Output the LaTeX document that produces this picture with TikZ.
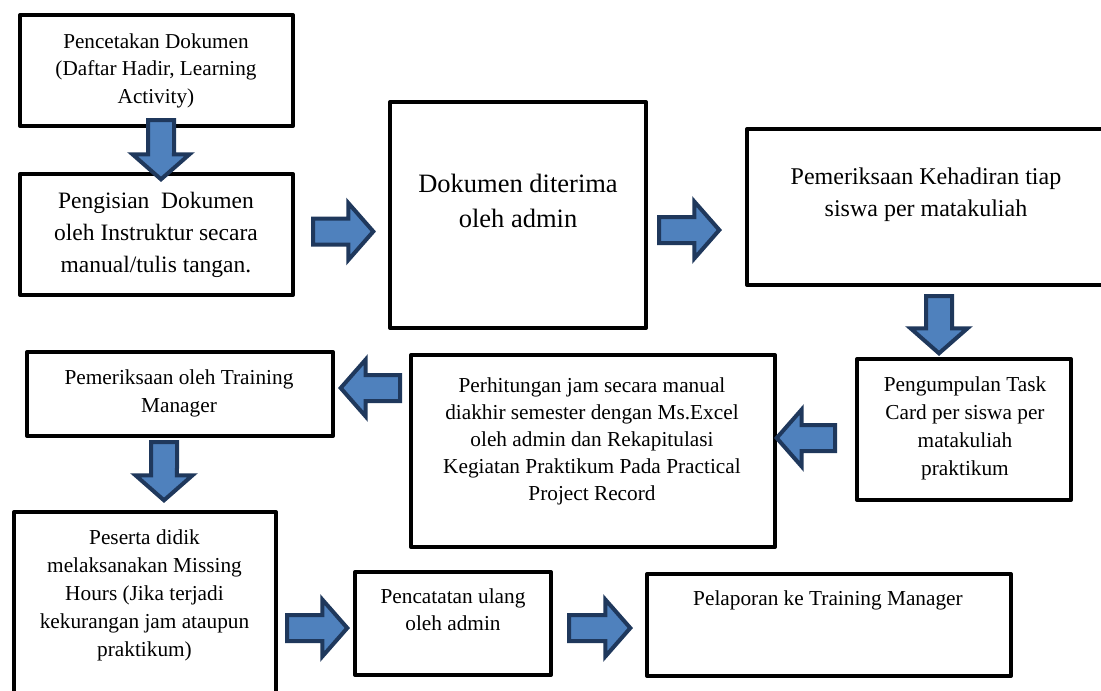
\documentclass[tikz,border=0pt]{standalone}
\usepackage{fontspec}
\setmainfont{Liberation Serif}
\usetikzlibrary{calc}
\definecolor{arrowfill}{RGB}{79,129,189}
\definecolor{arrowline}{RGB}{31,56,92}
\newcommand\setfs[2]{\fontsize{#1}{#2}\selectfont}
\begin{document}
\begin{tikzpicture}[x=1pt,y=-1pt,
  boxnode/.style={draw=black, line width=4pt, line join=round, inner sep=0pt, fill=white},
  txt/.style={align=center, inner sep=0pt, anchor=north, font=\setfs{21.3}{27.5}},
  blockarrow/.style={draw=arrowline, fill=arrowfill, line width=4pt, line join=miter,
    to path={($(\tikztostart)!13pt!90:(\tikztotarget)$)
      -- ($(\tikztotarget)!28.18pt!-27.47:(\tikztostart)$)
      -- ($(\tikztotarget)!37.91pt!-48.74:(\tikztostart)$)
      -- (\tikztotarget)
      -- ($(\tikztotarget)!37.91pt!48.74:(\tikztostart)$)
      -- ($(\tikztotarget)!28.18pt!27.47:(\tikztostart)$)
      -- ($(\tikztostart)!13pt!-90:(\tikztotarget)$) -- cycle}}
]
\useasboundingbox[fill=white] (0,0) rectangle (1101,691);

% boxes
\node[boxnode, minimum width=273pt, minimum height=111pt] (b1) at (156.5,70.5) {};
\node[boxnode, minimum width=273pt, minimum height=121pt] (b2) at (156.5,234.5) {};
\node[boxnode, minimum width=256pt, minimum height=226pt] (b3) at (518,215) {};
\node[boxnode, minimum width=359pt, minimum height=156pt] (b4) at (926.5,207) {};
\node[boxnode, minimum width=214pt, minimum height=141pt] (b5) at (964,429.5) {};
\node[boxnode, minimum width=364pt, minimum height=192pt] (b6) at (593,451) {};
\node[boxnode, minimum width=306pt, minimum height=84pt] (b7) at (180,394) {};
\node[boxnode, minimum width=262pt, minimum height=188pt] (b8) at (145,606) {};
\node[boxnode, minimum width=196pt, minimum height=103pt] (b9) at (453,623.5) {};
\node[boxnode, minimum width=364pt, minimum height=102pt] (b10) at (829,625) {};

% texts
\node[txt, font=\setfs{21.2}{27.5}] (t1) at (156,33.5) {Pencetakan Dokumen\\(Daftar Hadir, Learning\\Activity)};
\node[txt, font=\setfs{23.5}{32}] (t2) at (156,192) {Pengisian\ \ Dokumen\\oleh Instruktur secara\\manual/tulis tangan.};
\node[txt, font=\setfs{26.5}{35}] (t3) at (518,174) {Dokumen diterima\\oleh admin};
\node[txt, font=\setfs{24}{32}] (t4) at (926,167.6) {Pemeriksaan Kehadiran tiap\\siswa per matakuliah};
\node[txt, font=\setfs{21.3}{28}] (t5) at (965,376.5) {Pengumpulan Task\\Card per siswa per\\matakuliah\\praktikum};
\node[txt, font=\setfs{21.3}{27}] (t6) at (592,377.5) {Perhitungan jam secara manual\\diakhir semester dengan Ms.Excel\\oleh admin dan Rekapitulasi\\Kegiatan Praktikum Pada Practical\\Project Record};
\node[txt, font=\setfs{21.3}{27.7}] (t7) at (179,369.5) {Pemeriksaan oleh Training\\Manager};
\node[txt, font=\setfs{21.3}{28}] (t8) at (144.5,529.5) {Peserta didik\\melaksanakan Missing\\Hours (Jika terjadi\\kekurangan jam ataupun\\praktikum)};
\node[txt, font=\setfs{21.3}{27.5}] (t9) at (453,588.5) {Pencatatan ulang\\oleh admin};
\node[txt] (t10) at (828,590.5) {Pelaporan ke Training Manager};

% arrow end points
\coordinate (a1s) at ($(b1.south)+(4.5,-8)$);
\coordinate (a1e) at ($(b2.north)+(4.5,7.3)$);
\coordinate (a2s) at ($(b2.east)+(18,-3)$);
\coordinate (a2e) at ($(b3.west)+(-14.7,16.5)$);
\coordinate (a3s) at ($(b3.east)+(11,15)$);
\coordinate (a3e) at ($(b4.west)+(-25.7,23)$);
\coordinate (a4s) at ($(b4.south)+(12.5,9)$);
\coordinate (a4e) at ($(b5.north)+(-25,-3.7)$);
\coordinate (a5s) at ($(b5.west)+(-20,8.5)$);
\coordinate (a5e) at ($(b6.east)+(-0.3,-13)$);
\coordinate (a6s) at ($(b6.west)+(-9,-63)$);
\coordinate (a6e) at ($(b7.east)+(5.7,-6)$);
\coordinate (a7s) at ($(b7.south)+(-16,4)$);
\coordinate (a7e) at ($(b8.north)+(19,-9.7)$);
\coordinate (a8s) at ($(b8.east)+(9,22)$);
\coordinate (a8e) at ($(b9.west)+(-5.7,4.5)$);
\coordinate (a9s) at ($(b9.east)+(16,4.5)$);
\coordinate (a9e) at ($(b10.west)+(-14.7,3)$);

% block arrows
\draw[blockarrow] (a1s) to (a1e);
\draw[blockarrow] (a2s) to (a2e);
\draw[blockarrow] (a3s) to (a3e);
\draw[blockarrow] (a4s) to (a4e);
\draw[blockarrow] (a5s) to (a5e);
\draw[blockarrow] (a6s) to (a6e);
\draw[blockarrow] (a7s) to (a7e);
\draw[blockarrow] (a8s) to (a8e);
\draw[blockarrow] (a9s) to (a9e);
\end{tikzpicture}
\end{document}
